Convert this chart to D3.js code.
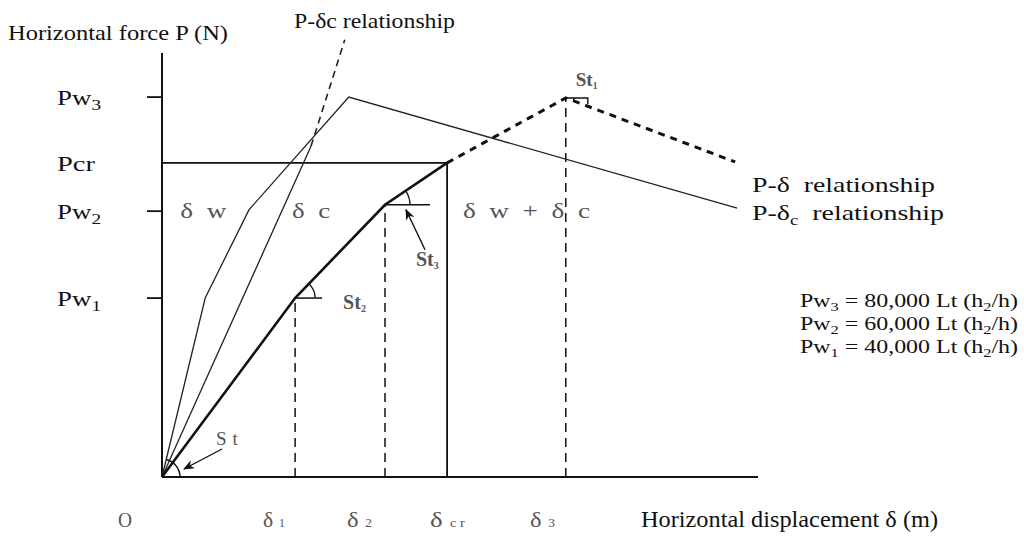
<!DOCTYPE html>
<html>
<head>
<meta charset="utf-8">
<script src="https://cdn.jsdelivr.net/npm/d3@7"></script>
<style>
  body { margin: 0; background: #fff; }
  text { font-family: "Liberation Serif", "Times New Roman", serif; fill: #111; }
  .soft { fill: #555; }
</style>
</head>
<body>
<svg width="1024" height="539"></svg>
<script>
// schematic values (arbitrary units)
var xTickLabels = ["O", "δ", "δ", "δ", "δ"];
var xTickSubs   = ["", "1", "2", "c r", "3"];
var xTickValues = [0, 2.68, 4.49, 5.74, 8.13];

var yLabels = ["Pw", "Pcr", "Pw", "Pw"];
var ySubs   = ["3", "", "2", "1"];
var yValues = [8.96, 7.41, 6.27, 4.22];
var yTicked = [true, false, true, true];

// P-delta (w + c), bold
var pdSolid  = [[0, 0], [2.68, 4.22], [4.49, 6.42], [5.74, 7.41]];
var pdDashed = [[5.74, 7.41], [8.13, 8.94], [11.54, 7.43]];
// P-delta_w, thin
var pwLine   = [[0, 0], [0.87, 4.22], [1.75, 6.3], [3.76, 8.96], [11.58, 6.34]];
// P-delta_c, thin then dashed
var pcSolid  = [[0, 0], [3.0, 7.8]];
var pcDashed = [[3.0, 7.8], [3.68, 10.31]];

var formulas = [["Pw", "3", " = 80,000 Lt (h", "2", "/h)"],
                ["Pw", "2", " = 60,000 Lt (h", "2", "/h)"],
                ["Pw", "1", " = 40,000 Lt (h", "2", "/h)"]];

var svg = d3.select("svg");

var x = d3.scaleLinear().domain([0, 12]).range([162, 758]);
var y = d3.scaleLinear().domain([0, 10]).range([477, 53]);

var line = d3.line().x(function(d) { return x(d[0]); }).y(function(d) { return y(d[1]); });

var defs = svg.append("defs");
defs.append("marker")
    .attr("id", "arrow")
    .attr("viewBox", "0 0 10 10")
    .attr("refX", 9).attr("refY", 5)
    .attr("markerWidth", 8).attr("markerHeight", 8)
    .attr("orient", "auto")
  .append("path")
    .attr("d", "M0,1 L10,5 L0,9 L3,5 Z")
    .attr("fill", "#111");

var g = svg.append("g");

// stretch a text to a given width (the original lettering is wide)
function fit(sel, w) {
  return sel.attr("textLength", w).attr("lengthAdjust", "spacingAndGlyphs");
}

// axes
g.append("line")
    .attr("x1", x(0)).attr("x2", x(0))
    .attr("y1", y(0)).attr("y2", y(10))
    .attr("stroke", "#111").attr("stroke-width", 2);
g.append("line")
    .attr("x1", x(0)).attr("x2", x(12))
    .attr("y1", y(0)).attr("y2", y(0))
    .attr("stroke", "#111").attr("stroke-width", 2.2);

// y ticks
var yWidths = [44, 38, 44, 44];
yValues.forEach(function(v, i) {
  if (yTicked[i]) {
    g.append("line")
        .attr("x1", x(0) - 15).attr("x2", x(0))
        .attr("y1", y(v)).attr("y2", y(v))
        .attr("stroke", "#111").attr("stroke-width", 1.8);
  }
  var t = g.append("text")
      .attr("x", 57).attr("y", y(v) + 8)
      .attr("font-size", 21);
  fit(t, yWidths[i]);
  t.append("tspan").text(yLabels[i]);
  if (ySubs[i]) t.append("tspan").attr("dy", 5).attr("font-size", 15).text(ySubs[i]);
});

// Pcr box
var pcr = yValues[1], dcr = xTickValues[3];
g.append("path")
    .attr("d", line([[0, pcr], [dcr, pcr], [dcr, 0]]))
    .attr("fill", "none").attr("stroke", "#111").attr("stroke-width", 1.8);

// vertical dashed guides
[[xTickValues[1], pdSolid[1][1]], [xTickValues[2], pdSolid[2][1]], [xTickValues[4], pdDashed[1][1]]].forEach(function(p) {
  g.append("line")
      .attr("x1", x(p[0])).attr("x2", x(p[0]))
      .attr("y1", y(0)).attr("y2", y(p[1]))
      .attr("stroke", "#111").attr("stroke-width", 1.5)
      .attr("stroke-dasharray", "9,6");
});

// curves
g.append("path").attr("d", line(pwLine))
    .attr("fill", "none").attr("stroke", "#222").attr("stroke-width", 1.3);
g.append("path").attr("d", line(pcSolid))
    .attr("fill", "none").attr("stroke", "#222").attr("stroke-width", 1.3);
g.append("path").attr("d", line(pcDashed))
    .attr("fill", "none").attr("stroke", "#222").attr("stroke-width", 1.6)
    .attr("stroke-dasharray", "7,5");
g.append("path").attr("d", line(pdSolid))
    .attr("fill", "none").attr("stroke", "#111").attr("stroke-width", 2.6);
g.append("path").attr("d", line(pdDashed))
    .attr("fill", "none").attr("stroke", "#111").attr("stroke-width", 3)
    .attr("stroke-dasharray", "7,6");

// angle marks (horizontal reference + arc)
function angleMark(p, q, len, r) {
  var cx = x(p[0]), cy = y(p[1]);
  var th = Math.atan2(y(q[1]) - cy, x(q[0]) - cx);
  g.append("line")
      .attr("x1", cx).attr("x2", cx + len)
      .attr("y1", cy).attr("y2", cy)
      .attr("stroke", "#111").attr("stroke-width", 1.5);
  var pa = d3.path();
  pa.arc(cx, cy, r, 0, th, true);
  g.append("path").attr("d", pa.toString())
      .attr("fill", "none").attr("stroke", "#111").attr("stroke-width", 1.3);
}
angleMark(pdSolid[1], pdSolid[2], 27, 20);
angleMark(pdSolid[2], pdSolid[3], 45, 25);

// origin arc
var po = d3.path();
po.arc(x(0), y(0), 18, 0, Math.atan2(y(pwLine[1][1]) - y(0), x(pwLine[1][0]) - x(0)), true);
g.append("path").attr("d", po.toString())
    .attr("fill", "none").attr("stroke", "#111").attr("stroke-width", 1.5);

// peak mark St1
var pk = pdDashed[1];
g.append("path")
    .attr("d", "M" + x(pk[0]) + "," + y(pk[1]) + "h22 v6 M" + (x(pk[0]) + 8) + "," + y(pk[1]) + "v4")
    .attr("fill", "none").attr("stroke", "#111").attr("stroke-width", 1.4);

// arrows
g.append("line")
    .attr("x1", x(0) + 60).attr("y1", y(0) - 28)
    .attr("x2", x(0) + 22).attr("y2", y(0) - 8)
    .attr("stroke", "#111").attr("stroke-width", 1.4)
    .attr("marker-end", "url(#arrow)");
g.append("line")
    .attr("x1", x(pdSolid[2][0]) + 40).attr("y1", y(pdSolid[2][1]) + 45)
    .attr("x2", x(pdSolid[2][0]) + 21).attr("y2", y(pdSolid[2][1]) + 5)
    .attr("stroke", "#111").attr("stroke-width", 1.4)
    .attr("marker-end", "url(#arrow)");

// St labels
function stLabel(px, py, sub, size) {
  var t = g.append("text").attr("x", px).attr("y", py).attr("font-size", size).attr("font-weight", "bold").attr("class", "soft");
  t.append("tspan").text("St");
  t.append("tspan").attr("dy", 3).attr("font-size", size * 0.5).text(sub);
}
stLabel(x(pk[0]) + 10, y(pk[1]) - 12, "1", 19);
stLabel(x(pdSolid[1][0]) + 48, y(pdSolid[1][1]) + 11, "2", 20);
stLabel(x(pdSolid[2][0]) + 31, y(pdSolid[2][1]) + 61, "3", 20);
g.append("text").attr("class", "soft")
    .attr("x", x(0) + 54).attr("y", y(0) - 32)
    .attr("font-size", 19).attr("letter-spacing", 6).text("St");

// region labels
[["δ w", 0.37, 46], ["δ c", 2.62, 38], ["δ w + δ c", 6.06, 127]].forEach(function(d) {
  var t = g.append("text").attr("class", "soft")
      .attr("x", x(d[1])).attr("y", y(pdSolid[2][1]) + 13)
      .attr("font-size", 21)
      .style("white-space", "pre")
      .text(d[0].replace(/ /g, "  "));
  fit(t, d[2]);
});

// x tick labels
var xLabelLeft  = [118, 263, 347, 430, 530];
var xLabelWidth = [14, 22, 25, 35, 25];
xTickLabels.forEach(function(lab, i) {
  var t = g.append("text").attr("class", "soft")
      .attr("x", xLabelLeft[i]).attr("y", 527).attr("font-size", 22);
  fit(t, xLabelWidth[i]);
  t.append("tspan").text(lab);
  if (xTickSubs[i]) t.append("tspan").attr("dx", 6).attr("font-size", 12).text(xTickSubs[i]);
});

// axis titles
fit(g.append("text").attr("x", 8).attr("y", 40).attr("font-size", 22), 220)
    .text("Horizontal force P (N)");
fit(g.append("text").attr("x", 641).attr("y", 527).attr("font-size", 23), 297)
    .text("Horizontal displacement δ (m)");

// relationship labels
fit(g.append("text").attr("x", 294).attr("y", 28).attr("font-size", 21), 161)
    .text("P-δc relationship");
fit(g.append("text").attr("x", 752).attr("y", 192).attr("font-size", 21), 183)
    .style("white-space", "pre").text("P-δ  relationship");
var t2 = fit(g.append("text").attr("x", 752).attr("y", 220).attr("font-size", 21), 192)
    .style("white-space", "pre");
t2.append("tspan").text("P-δ");
t2.append("tspan").attr("dy", 5).attr("font-size", 14).text("c");
t2.append("tspan").attr("dy", -5).text("  relationship");

// formulas
formulas.forEach(function(f, i) {
  var t = fit(g.append("text").attr("x", 800).attr("y", 307 + i * 23).attr("font-size", 19), 218);
  t.append("tspan").text(f[0]);
  t.append("tspan").attr("dy", 4).attr("font-size", 13).text(f[1]);
  t.append("tspan").attr("dy", -4).text(f[2]);
  t.append("tspan").attr("dy", 4).attr("font-size", 13).text(f[3]);
  t.append("tspan").attr("dy", -4).text(f[4]);
});
</script>
</body>
</html>
